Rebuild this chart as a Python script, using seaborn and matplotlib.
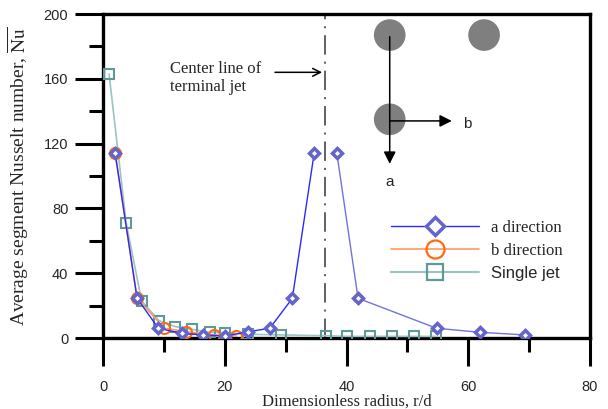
import numpy as np
import pandas as pd
import seaborn as sns
import matplotlib
matplotlib.use("Agg")
import matplotlib.pyplot as plt
from matplotlib.lines import Line2D

# ---------------- data ----------------
a_x_left = [2.0, 5.6, 9.1, 12.9, 16.5, 20.1, 23.9, 27.4, 31.1, 34.7]
a_y_left = [114, 24.5, 6.0, 2.9, 1.9, 1.2, 3.9, 6.0, 24.5, 114.4]
a_x_right = [38.4, 41.9, 54.8, 62.0, 69.3]
a_y_right = [114.4, 24.5, 6.0, 3.5, 1.9]

b_x = [2.0, 5.6, 10.1, 13.7, 18.3, 21.9]
b_y = [114, 24.5, 6.0, 3.9, 1.9, 1.2]

s_x = [1.0, 3.8, 6.35, 9.2, 11.9, 14.7, 17.5, 20.1, 23.9, 29.2, 36.6,
       40.0, 43.8, 47.4, 51.1, 54.7]
s_y = [163, 71.2, 22.8, 10.7, 7.0, 5.3, 3.5, 3.3, 2.3, 1.9, 1.4,
       1.0, 1.0, 1.0, 1.0, 1.0]

center_line_x = 36.45
series_labels = ["a direction", "b direction", "Single jet"]
x_ticks = [0, 20, 40, 60, 80]
y_ticks = [0, 40, 80, 120, 160, 200]

# jet-array sketch (data coordinates)
jet_x = [47.1, 62.6, 47.1]
jet_y = [187, 187, 135]

# ---------------- style ----------------
sns.set_theme(style="ticks")
plt.rcParams["font.family"] = ["Liberation Sans", "DejaVu Sans"]
plt.rcParams["lines.scale_dashes"] = False
plt.rcParams["mathtext.fontset"] = "stix"
serif = ["Liberation Serif", "DejaVu Serif"]

fig = plt.figure(figsize=(6.08, 4.09), dpi=100)
ax = fig.add_axes([103 / 608, 1 - 338 / 409, (590 - 103) / 608, (338 - 14) / 409])

c_a_line = "#2a2aff"
c_a_line2 = "#7272e0"
c_a_mk = "#6464cc"
c_b_line = "#ff9a5c"
c_b_mk = "#ff6a10"
c_s_line = "#9cc4c2"
c_s_mk = "#5f9a99"

df_s = pd.DataFrame({"x": s_x, "y": s_y})
df_b = pd.DataFrame({"x": b_x, "y": b_y})
df_al = pd.DataFrame({"x": a_x_left, "y": a_y_left})
df_ar = pd.DataFrame({"x": a_x_right, "y": a_y_right})

sns.lineplot(data=df_s, x="x", y="y", ax=ax, sort=False, color=c_s_line, lw=1.2,
             marker="s", ms=7, mfc="none", mec=c_s_mk, mew=1.5, zorder=3)
sns.lineplot(data=df_b, x="x", y="y", ax=ax, sort=False, color=c_b_line, lw=1.2,
             marker="o", ms=8, mfc="none", mec=c_b_mk, mew=1.5, zorder=4)
sns.lineplot(data=df_al, x="x", y="y", ax=ax, sort=False, color=c_a_line, lw=1.0,
             marker="D", ms=5, mfc="white", mec=c_a_mk, mew=2.5, zorder=5)
sns.lineplot(data=df_ar, x="x", y="y", ax=ax, sort=False, color=c_a_line2, lw=1.0,
             marker="D", ms=5, mfc="white", mec=c_a_mk, mew=2.5, zorder=5)

# center line of terminal jet
ax.axvline(center_line_x, color="#555555", lw=1.3, dashes=(14, 5, 1.5, 5), zorder=2)
ax.annotate("", xy=(center_line_x, 164), xytext=(27.8, 164),
            arrowprops=dict(arrowstyle="->", color="black", lw=1.1, mutation_scale=14))
ax.text(11.0, 171, "Center line of\nterminal jet", family=serif, fontsize=12,
        va="top", ha="left", linespacing=1.15)

# jet sketch
ax.scatter(jet_x, jet_y, s=520, color="#7f7f7f", edgecolor="none", zorder=6)
ax.annotate("", xy=(47.1, 107.5), xytext=(47.1, 186),
            arrowprops=dict(arrowstyle="-|>", color="black", lw=1.1,
                            mutation_scale=18, shrinkA=0, shrinkB=0), zorder=7)
ax.annotate("", xy=(57.3, 134), xytext=(47.1, 134),
            arrowprops=dict(arrowstyle="-|>", color="black", lw=1.1,
                            mutation_scale=18, shrinkA=0, shrinkB=0), zorder=7)
ax.text(59.2, 132, "b", fontsize=11, ha="left", va="center")
ax.text(47.1, 96, "a", fontsize=11, ha="center", va="center")

# axes
ax.set_xlim(0, 80)
ax.set_ylim(0, 200)
ax.set_xticks(x_ticks)
ax.set_yticks(y_ticks)
ax.set_xticks([10, 30, 50, 70], minor=True)
ax.set_yticks([20, 60, 100, 140, 180], minor=True)
ax.tick_params(which="major", direction="out", length=20, width=2.2,
               labelsize=10.5, color="black")
ax.tick_params(axis="x", which="major", pad=10)
ax.tick_params(axis="y", which="major", pad=5)
ax.tick_params(which="minor", direction="out", length=10, width=2.2, color="black")
for sp in ax.spines.values():
    sp.set_visible(True)
    sp.set_linewidth(2.4)
    sp.set_color("black")

ax.set_xlabel("Dimensionless radius, r/d", family=serif, fontsize=12, labelpad=0)
ax.set_ylabel(r"Average segment Nusselt number, $\overline{\mathrm{Nu}}$",
              family=serif, fontsize=14, labelpad=9)

# legend
handles = [
    Line2D([], [], color=c_a_line, lw=1.0, marker="D", ms=9, mfc="white", mec=c_a_mk, mew=2.5),
    Line2D([], [], color=c_b_line, lw=1.2, marker="o", ms=13, mfc="none", mec=c_b_mk, mew=1.6),
    Line2D([], [], color=c_s_line, lw=1.5, marker="s", ms=11, mfc="none", mec=c_s_mk, mew=1.6),
]
leg = ax.legend(handles, series_labels, loc="upper left", bbox_to_anchor=(0.577, 0.385),
                frameon=False, handlelength=5.3, handletextpad=0.7, labelspacing=0.42,
                fontsize=12, borderaxespad=0)
texts = leg.get_texts()
texts[0].set_family(serif)
texts[1].set_family(serif)
texts[2].set_family(["Liberation Sans", "DejaVu Sans"])

fig.savefig("out.png", dpi=100)
